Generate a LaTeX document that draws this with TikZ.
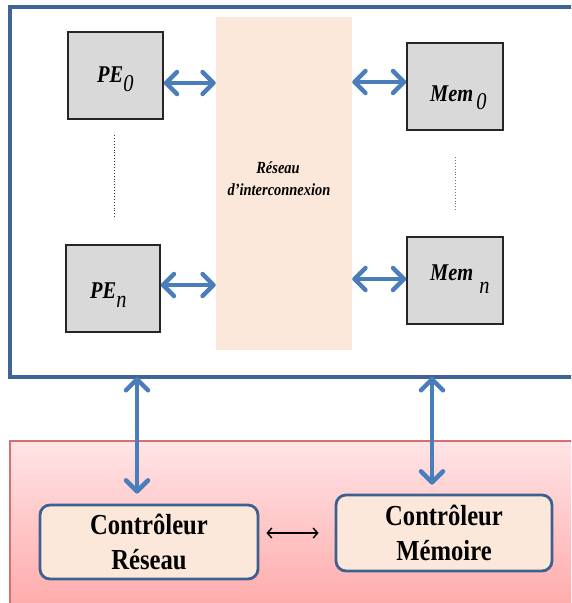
\documentclass[tikz,border=0pt]{standalone}
\usepackage{fontspec}
\newfontfamily\cond[FakeStretch=0.85]{Liberation Serif}
\usetikzlibrary{arrows.meta}
\definecolor{frameblue}{RGB}{62,100,152}
\definecolor{arrowblue}{RGB}{74,126,187}
\definecolor{ctrlborder}{RGB}{62,96,145}
\definecolor{peach}{RGB}{252,232,218}
\definecolor{boxgray}{RGB}{217,217,217}
\definecolor{pinktop}{RGB}{255,228,230}
\definecolor{pinkbot}{RGB}{255,166,166}
\definecolor{pinkborder}{RGB}{214,112,112}
\tikzset{
  gbox/.style={draw=black!85, line width=1.4pt, fill=boxgray, inner sep=0pt},
  ctrl/.style={draw=ctrlborder, line width=2.8pt, fill=peach, rounded corners=10pt,
    inner sep=0pt, align=center, font=\cond\bfseries\fontsize{29}{35}\selectfont},
  lbl/.style={inner sep=0pt, font=\cond\bfseries\itshape\fontsize{24}{26}\selectfont},
  netlbl/.style={inner sep=0pt, anchor=base, font=\cond\bfseries\itshape\fontsize{17}{20}\selectfont},
  biarrow/.style={draw=arrowblue, line width=4.5pt,
    {Straight Barb[round,length=11pt,width=22pt]}-{Straight Barb[round,length=11pt,width=22pt]}},
  thinarrow/.style={draw=black, line width=1.4pt,
    {Straight Barb[length=4.5pt,width=10pt]}-{Straight Barb[length=4.5pt,width=10pt]}},
}
\newcommand{\subtxt}[2]{\raisebox{-#1}{\mdseries\itshape #2}}
\begin{document}
\begin{tikzpicture}[x=1pt,y=-1pt]
\useasboundingbox (0,0) rectangle (571,603);
\begin{scope}
  \clip (0,0) rectangle (571,603);
  \shade[top color=pinktop, bottom color=pinkbot, draw=pinkborder, line width=1.3pt]
    (10,441) rectangle (600,620);
  \draw[frameblue, line width=3.2pt] (10,7) rectangle (600,377);
\end{scope}

% interconnection network
\node[fill=peach, minimum width=136pt, minimum height=333pt, inner sep=0pt] (net) at (284,183.5) {};
\node[netlbl] (net1) at (278,173) {Réseau};
\node[netlbl] (net2) at (279,195) {d’interconnexion};

% PE and memory boxes
\node[gbox, minimum width=95pt, minimum height=87pt] (pe0) at (115.5,75.5) {};
\node[gbox, minimum width=94pt, minimum height=87pt] (pen) at (113,288.5) {};
\node[gbox, minimum width=96pt, minimum height=87pt] (mem0) at (455,86.5) {};
\node[gbox, minimum width=96pt, minimum height=87pt] (memn) at (455,280.5) {};

\node[lbl, anchor=base west] (pe0t) at (97,82) {PE\subtxt{9pt}{0}};
\node[lbl, anchor=base west] (pent) at (90,298) {PE\subtxt{9pt}{n}};
\node[lbl, anchor=base west] (mem0t) at (430,101) {Mem\hspace{3pt}\subtxt{8pt}{0}};
\node[lbl, anchor=base west] (memnt) at (430,280) {Mem\hspace{6pt}\subtxt{13pt}{n}};

% dotted continuation lines
\draw[dotted, line width=0.9pt, black!80] (114,135) -- (114,217);
\draw[dotted, line width=0.9pt, black!55] (455,157) -- (455,212);

% arrows to network
\draw[biarrow] (pe0.east |- 0,83) -- (net.west |- 0,83);
\draw[biarrow] (pen.east |- 0,285) -- (net.west |- 0,285);
\draw[biarrow] (net.east |- 0,82) -- (mem0.west |- 0,82);
\draw[biarrow] (net.east |- 0,279) -- (memn.west |- 0,279);

% controllers
\node[ctrl, minimum width=218pt, minimum height=74pt] (cr) at (149,542) {Contrôleur\\Réseau};
\node[ctrl, minimum width=216pt, minimum height=76pt] (cm) at (444,533) {Contrôleur\\Mémoire};

\coordinate (f1) at (137,377);
\coordinate (f2) at (432,377);
\draw[biarrow, shorten >=10pt] (f1) -- (f1 |- cr.north);
\draw[biarrow, shorten >=9pt] (f2) -- (f2 |- cm.north);
\draw[thinarrow, shorten <=7pt, shorten >=16pt] (cr.east |- 0,533) -- (cm.west |- 0,533);
\end{tikzpicture}
\end{document}
